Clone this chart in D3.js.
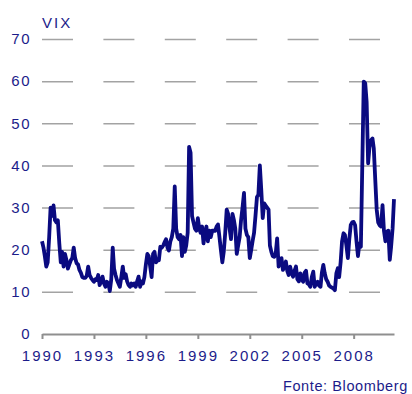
<!DOCTYPE html>
<html>
<head>
<meta charset="utf-8">
<script src="https://cdn.jsdelivr.net/npm/d3@7/dist/d3.min.js"></script>
<style>
  html, body { margin: 0; padding: 0; background: #ffffff; }
  svg { display: block; }
  text { font-family: "Liberation Sans", Arial, sans-serif; fill: #1c1c8a; }
</style>
</head>
<body>
<script>
// VIX index, monthly observations from January 1990
const startYear = 1990;
const vixValues = [
  22, 20.5, 18.5, 16, 17, 23, 30, 28, 30.5, 27, 26.5, 27,            // 1990
  21.5, 17, 19.5, 16, 19, 17.5, 15.5, 16.5, 17.5, 18, 20.5, 18,      // 1991
  16.8, 16.5, 15.2, 14.5, 13.5, 13.3, 13.3, 13.8, 16, 14, 13.3, 12.8, // 1992
  12.4, 13, 12.8, 14, 11.6, 12.5, 13.6, 12, 11.2, 12.4, 12, 10.2,    // 1993
  13, 20.5, 15.5, 14, 12.8, 12, 11.2, 13.5, 16, 13.3, 14.2, 12.5,    // 1994
  11.6, 11.2, 12, 11.5, 12, 11.2, 12.5, 13.6, 11.2, 12.5, 12, 13.5,  // 1995
  16.5, 19, 18.5, 16, 13.5, 19, 19.5, 17, 17.5, 17.5, 20.7, 20.5,    // 1996
  21, 21.8, 22.5, 20.5, 19.8, 22, 23, 25, 35, 25, 23, 22.5,          // 1997
  23.5, 18.5, 23, 19.5, 21, 24, 44.4, 43, 28, 26.5, 25, 24.5,        // 1998
  27.5, 25, 24, 25.5, 21.5, 24, 25.5, 22, 24.5, 23, 24.5, 24.5,      // 1999
  24.5, 25.5, 26, 23, 20, 17, 19.5, 24, 29.5, 28.5, 25, 22.5,        // 2000
  28.5, 27, 25, 19, 21, 23, 27, 30, 33.5, 25, 23.5, 23,              // 2001
  18, 20, 22, 24, 28, 32.5, 33, 40, 34, 27.5, 31, 30.5,              // 2002
  30, 29.5, 21, 19.5, 18.5, 18.3, 19, 22.7, 16, 17.5, 18, 15.2,      // 2003
  16, 17.2, 15, 14, 16, 14.5, 13.6, 15, 16, 13, 12.5, 14.4,          // 2004
  13, 12.4, 14.5, 15, 12, 11.8, 11.2, 13.5, 14.8, 11.2, 12, 12.4,    // 2005
  11.5, 11.2, 14.5, 16.4, 14.4, 13, 12.4, 11.5, 11.2, 11, 10.8, 10.4, // 2006
  14.4, 15.6, 13.5, 17, 22, 23.9, 23.5, 21, 18, 22.5, 25.9, 26.5,    // 2007
  26.6, 25.8, 22, 18.5, 21.5, 20.7, 40, 59.9, 59.5, 55, 40.5, 44.5,  // 2008
  46, 46.4, 44, 36.5, 29.5, 26.5, 25.8, 25.5, 30.6, 24.5, 22, 24.3,  // 2009
  24.5, 17.6, 20.7, 25, 32                                           // 2010
];

const yTicks = [0, 10, 20, 30, 40, 50, 60, 70];
const xTickYears = [1990, 1993, 1996, 1999, 2002, 2005, 2008];
const seriesLabel = "VIX";
const sourceLabel = "Fonte: Bloomberg";

const W = 412, H = 394;
const plotLeft = 42, plotRight = 394, plotTop = 39, plotBottom = 334;

const data = vixValues.map((v, i) => ({
  date: d3.timeMonth.offset(new Date(startYear, 0, 1), i),
  value: v
}));

const x = d3.scaleTime()
  .domain([data[0].date, data[data.length - 1].date])
  .range([plotLeft, plotRight]);
const y = d3.scaleLinear().domain([0, 70]).range([plotBottom, plotTop]);

const svg = d3.select("body").append("svg")
  .attr("width", W).attr("height", H)
  .attr("viewBox", `0 0 ${W} ${H}`);

svg.append("rect").attr("width", W).attr("height", H).attr("fill", "#ffffff");

// dashed horizontal gridlines
const grid = svg.append("g")
  .attr("transform", `translate(${plotLeft},0)`)
  .call(d3.axisRight(y)
    .tickValues(yTicks.filter(t => t > 0))
    .tickSize(plotRight - plotLeft)
    .tickFormat(""));
grid.select(".domain").remove();
grid.selectAll(".tick line")
  .attr("stroke", "#a3a3a3")
  .attr("stroke-width", 1.5)
  .attr("stroke-dasharray", "31,30.4");

// value labels on the left
const yAxis = svg.append("g")
  .attr("transform", `translate(${31},0)`)
  .call(d3.axisLeft(y).tickValues(yTicks).tickSize(0).tickPadding(0));
yAxis.select(".domain").remove();
yAxis.selectAll(".tick text")
  .attr("font-size", 15)
  .attr("letter-spacing", 1.5)
  .attr("fill", "#1c1c8a")
  .style("font-family", '"Liberation Sans", Arial, sans-serif');

// time axis
const xAxis = svg.append("g")
  .attr("transform", `translate(0,${plotBottom})`)
  .call(d3.axisBottom(x)
    .tickValues(xTickYears.map(yr => new Date(yr, 0, 1)))
    .tickFormat(d3.timeFormat("%Y"))
    .tickSizeInner(5)
    .tickSizeOuter(0)
    .tickPadding(11));
xAxis.select(".domain")
  .attr("stroke", "#8f8f8f")
  .attr("stroke-width", 2);
xAxis.selectAll(".tick line")
  .attr("stroke", "#8f8f8f")
  .attr("stroke-width", 2);
xAxis.selectAll(".tick text")
  .attr("font-size", 15)
  .attr("letter-spacing", 2)
  .attr("fill", "#1c1c8a")
  .style("font-family", '"Liberation Sans", Arial, sans-serif');

// series line
const line = d3.line()
  .x(d => x(d.date))
  .y(d => y(d.value));

svg.append("path")
  .datum(data)
  .attr("d", line)
  .attr("fill", "none")
  .attr("stroke", "#0a0a80")
  .attr("stroke-width", 3.8)
  .attr("stroke-linejoin", "round")
  .attr("stroke-linecap", "butt");

// titles
svg.append("text")
  .attr("x", 42).attr("y", 28)
  .attr("font-size", 15)
  .attr("letter-spacing", 2)
  .text(seriesLabel);

svg.append("text")
  .attr("x", 283).attr("y", 391)
  .attr("font-size", 14.5)
  .attr("letter-spacing", 0.6)
  .text(sourceLabel);
</script>
</body>
</html>
